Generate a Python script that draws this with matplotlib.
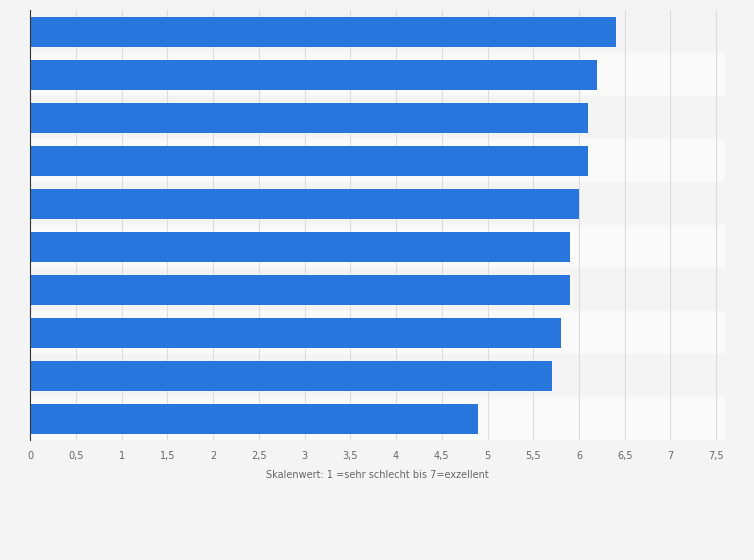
import matplotlib.pyplot as plt
import numpy as np

values = [6.4, 6.2, 6.1, 6.1, 6.0, 5.9, 5.9, 5.8, 5.7, 4.9]
ticks = [0, 0.5, 1, 1.5, 2, 2.5, 3, 3.5, 4, 4.5, 5, 5.5, 6, 6.5, 7, 7.5]
tick_labels = [str(t).replace('.', ',') if t != int(t) else str(int(t)) for t in ticks]
xlabel = "Skalenwert: 1 =sehr schlecht bis 7=exzellent"

fig = plt.figure(figsize=(7.54, 5.60), dpi=100)
fig.patch.set_facecolor('#f4f4f4')
ax = fig.add_axes([0.040, 0.214, 0.922, 0.768])
ax.set_facecolor('#f4f4f4')
n = len(values)
y = np.arange(n)
for i in range(n):
    ax.axhspan(i - 0.5, i + 0.5, color='#f4f4f4' if i % 2 == 0 else '#fafafa', zorder=0)
ax.set_xlim(0, 7.6)
ax.set_ylim(n - 0.5, -0.5)
for t in ticks[1:]:
    ax.axvline(t, color='#dcdcdc', lw=0.8, zorder=1)
ax.barh(y, values, height=0.7, color='#2876dd', zorder=2)
ax.set_xticks(ticks)
ax.set_xticklabels(tick_labels, fontsize=7, color='#666666')
ax.set_yticks([])
ax.tick_params(axis='x', length=0, pad=8)
for s in ['top', 'right', 'bottom']:
    ax.spines[s].set_visible(False)
ax.spines['left'].set_color('#333333')
ax.set_xlabel(xlabel, fontsize=7, color='#666666', labelpad=6)
fig.savefig('out.png', dpi=100, facecolor=fig.get_facecolor())
